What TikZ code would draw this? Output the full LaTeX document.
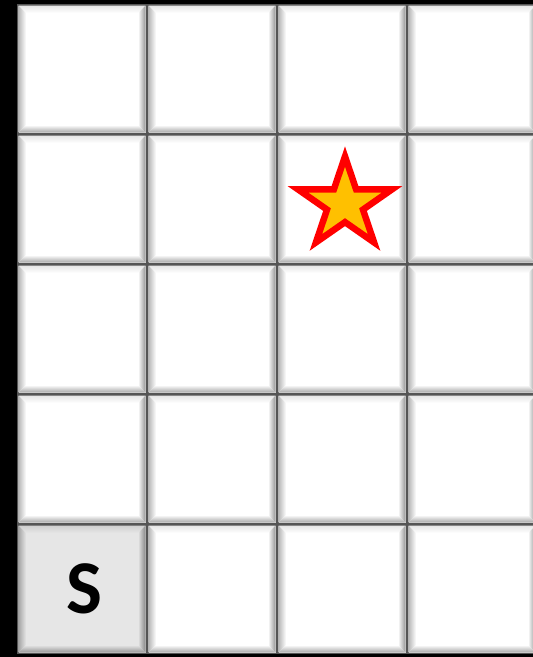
\documentclass[tikz,border=0pt]{standalone}
\usepackage{fontspec}
\newfontfamily\carlito{Carlito}
\definecolor{gridgray}{HTML}{555555}
\definecolor{tileface}{HTML}{FFFFFF}
\definecolor{startface}{HTML}{E6E6E6}
\definecolor{starfill}{HTML}{FFC000}
\definecolor{starline}{HTML}{FF0000}
\tikzset{
  starshape/.style={draw=starline, fill=starfill, line width=6.5pt, line join=miter},
  slabel/.style={font=\carlito\bfseries\fontsize{76}{76}\selectfont, text=black, inner sep=0pt}
}
% #1 = x0, #2 = y0, #3 = face colour
\newcommand\mytile[3]{%
  \pgfmathsetmacro\ax{#1+1.5}\pgfmathsetmacro\ay{#2+1.5}%
  \pgfmathsetmacro\bx{#1+128.5}\pgfmathsetmacro\by{#2+128.5}%
  \pgfmathsetmacro\cx{#1+9}\pgfmathsetmacro\cy{#2+9}%
  \pgfmathsetmacro\dx{#1+121}\pgfmathsetmacro\dy{#2+121}%
  \fill[gridgray] (#1,#2) rectangle ++(130,130);
  \fill[#3] (\ax,\ay) rectangle (\bx,\by);
  \shade[top color=#3!90!black, bottom color=#3] (\ax,\ay) -- (\bx,\ay) -- (\dx,\cy) -- (\cx,\cy) -- cycle;
  \shade[left color=#3!72!black, right color=#3] (\ax,\ay) -- (\cx,\cy) -- (\cx,\dy) -- (\ax,\by) -- cycle;
  \shade[right color=#3!58!black, left color=#3] (\bx,\ay) -- (\bx,\by) -- (\dx,\dy) -- (\dx,\cy) -- cycle;
  \shade[bottom color=#3!65!black, top color=#3] (\ax,\by) -- (\cx,\dy) -- (\dx,\dy) -- (\bx,\by) -- cycle;
}
\begin{document}
\begin{tikzpicture}[x=1pt,y=-1pt]
\useasboundingbox (0,0) rectangle (533,657);
\clip (0,0) rectangle (533,657);
\fill[black] (0,0) rectangle (533,657);
\foreach \i in {0,...,3}{
  \foreach \j in {0,...,4}{
    \pgfmathsetmacro\xo{17+130*\i}
    \pgfmathsetmacro\yo{4+130*\j}
    \ifnum\i=0 \ifnum\j=4
      \mytile{\xo}{\yo}{startface}
    \else
      \mytile{\xo}{\yo}{tileface}
    \fi\else
      \mytile{\xo}{\yo}{tileface}
    \fi
  }
}
\node[slabel] (s) at (84,589) {S};
\draw[starshape, shift={(345,204)}, xscale=49.5, yscale=47.5]
  (-90:1) -- (-54:0.382) -- (-18:1) -- (18:0.382) -- (54:1) -- (90:0.382)
  -- (126:1) -- (162:0.382) -- (198:1) -- (234:0.382) -- cycle;
\end{tikzpicture}
\end{document}
